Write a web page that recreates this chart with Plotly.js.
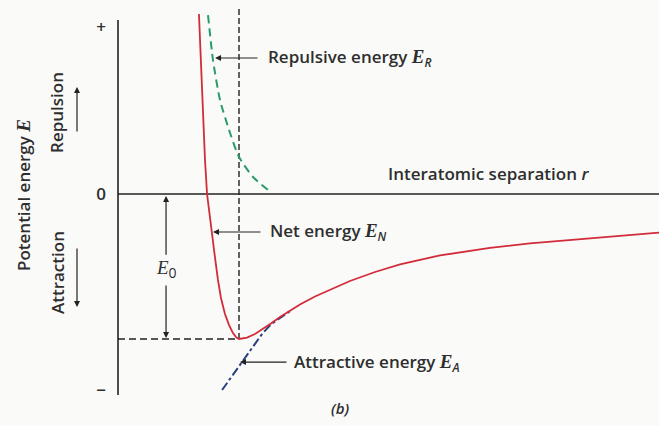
<!DOCTYPE html>
<html><head><meta charset="utf-8">
<script src="https://cdn.plot.ly/plotly-3.0.1.min.js"></script>
<style>html,body{margin:0;padding:0;background:#fafaf8}</style>
</head><body><div id="chart" style="width:659px;height:426px"></div>
<script>
// Schematic units: r0 (equilibrium separation) = 1, E0 (bonding energy) = 1
const netR = [0.669, 0.686, 0.702, 0.719, 0.736, 0.756, 0.781, 0.802, 0.826, 0.851, 0.884, 0.917, 0.950, 0.979, 1.0, 1.066, 1.132, 1.198, 1.264, 1.339, 1.421, 1.504, 1.628, 1.752, 1.917, 2.124, 2.331, 2.661, 3.074, 3.405, 3.818, 4.149, 4.471];
const netE = [1.241, 0.855, 0.510, 0.234, 0.0, -0.145, -0.283, -0.441, -0.593, -0.717, -0.828, -0.903, -0.959, -0.990, -1.0, -0.990, -0.966, -0.931, -0.893, -0.848, -0.803, -0.762, -0.707, -0.659, -0.600, -0.538, -0.486, -0.424, -0.372, -0.341, -0.310, -0.286, -0.266];
const repR = [0.744, 0.785, 0.843, 0.926, 1.0, 1.116, 1.240];
const repE = [1.234, 0.924, 0.648, 0.421, 0.255, 0.117, 0.028];
const attR = [0.860, 1.025, 1.190, 1.264, 1.339, 1.421];
const attE = [-1.352, -1.159, -0.966, -0.899, -0.854, -0.808];
const r0Line = [1, 1];
const r0LineE = [1.276, -1.0];
const e0LineR = [0, 1];
const e0LineE = [-1, -1];
const axisR = [0, 0];
const axisE = [1.2, -1.386];
const baseR = [0, 4.471];
const baseE = [0, 0];
const tickVals = [1.15, 0, -1.35];
const tickText = ['+', '0', '\u2212'];

const serifE = (sub) => '<span style="font-family:Liberation Serif;font-size:19px"><i>E</i></span><sub>' + sub + '</sub>';
const txtFont = {family: 'Open Sans', size: 17, weight: 600, color: '#2e2e2e'};

const traces = [
  {x: axisR, y: axisE, mode: 'lines', line: {color: '#222', width: 1.6}, hoverinfo: 'skip'},
  {x: baseR, y: baseE, mode: 'lines', line: {color: '#222', width: 1.6}, hoverinfo: 'skip'},
  {x: r0Line, y: r0LineE, mode: 'lines', line: {color: '#222', width: 1.4, dash: '6px,3px'}, hoverinfo: 'skip'},
  {x: e0LineR, y: e0LineE, mode: 'lines', line: {color: '#222', width: 1.4, dash: '7px,4px'}, hoverinfo: 'skip'},
  {x: repR, y: repE, mode: 'lines', line: {color: '#2a9a66', width: 2, dash: '8px,5px', shape: 'spline', smoothing: 0.6}, name: 'Repulsive'},
  {x: attR, y: attE, mode: 'lines', line: {color: '#2b3f7f', width: 2, dash: 'dashdot'}, name: 'Attractive'},
  {x: netR, y: netE, mode: 'lines', line: {color: '#d22b3a', width: 1.8}, name: 'Net'}
];

const arrow = (x, y, ax, ay) => ({
  x: x, y: y, ax: ax, ay: ay, xref: 'x', yref: 'y', axref: 'x', ayref: 'y',
  text: '', showarrow: true, arrowhead: 2, arrowsize: 1, arrowwidth: 1.2, arrowcolor: '#222'
});

const annotations = [
  arrow(0.802, 0.938, 1.165, 0.938),
  {x: 1.226, y: 0.938, xref: 'x', yref: 'y', text: 'Repulsive energy ' + serifE('<i>R</i>'), showarrow: false, xanchor: 'left', yanchor: 'middle', font: txtFont},
  arrow(0.785, -0.262, 1.190, -0.262),
  {x: 1.240, y: -0.262, xref: 'x', yref: 'y', text: 'Net energy ' + serifE('<i>N</i>'), showarrow: false, xanchor: 'left', yanchor: 'middle', font: txtFont},
  arrow(1.008, -1.159, 1.405, -1.159),
  {x: 1.438, y: -1.159, xref: 'x', yref: 'y', text: 'Attractive energy ' + serifE('<i>A</i>'), showarrow: false, xanchor: 'left', yanchor: 'middle', font: txtFont},
  {x: 2.215, y: 0.138, xref: 'x', yref: 'y', text: 'Interatomic separation <i>r</i>', showarrow: false, xanchor: 'left', yanchor: 'middle', font: txtFont},
  arrow(0.397, -0.014, 0.397, -0.43),
  arrow(0.397, -0.993, 0.397, -0.62),
  {x: 0.397, y: -0.524, xref: 'x', yref: 'y', text: serifE('0'), showarrow: false, xanchor: 'center', yanchor: 'middle', font: {family: 'Open Sans', size: 20, color: '#2e2e2e'}},
  {x: 1.835, y: -0.02, xref: 'x', yref: 'paper', text: '<i>(b)</i>', showarrow: false, xanchor: 'center', yanchor: 'middle', font: {family: 'Open Sans', size: 15, weight: 600, color: '#2e2e2e'}},
  {x: (23 - 110) / 549, y: -0.007, xref: 'paper', yref: 'y', text: 'Potential energy ' + '<span style="font-family:Liberation Serif;font-size:19px"><i>E</i></span>', textangle: -90, showarrow: false, xanchor: 'center', yanchor: 'middle', font: txtFont},
  {x: (57 - 110) / 549, y: 0.559, xref: 'paper', yref: 'y', text: 'Repulsion', textangle: -90, showarrow: false, xanchor: 'center', yanchor: 'middle', font: txtFont},
  {x: (57 - 110) / 549, y: -0.545, xref: 'paper', yref: 'y', text: 'Attraction', textangle: -90, showarrow: false, xanchor: 'center', yanchor: 'middle', font: txtFont},
  {x: (77 - 110) / 549, y: 0.738, xref: 'paper', yref: 'y', axref: 'pixel', ayref: 'pixel', ax: 0, ay: 46, text: '', showarrow: true, arrowhead: 2, arrowsize: 1, arrowwidth: 1.2, arrowcolor: '#222'},
  {x: (77 - 110) / 549, y: -0.779, xref: 'paper', yref: 'y', axref: 'pixel', ayref: 'pixel', ax: 0, ay: -60, text: '', showarrow: true, arrowhead: 2, arrowsize: 1, arrowwidth: 1.2, arrowcolor: '#222'}
];

const layout = {
  width: 659, height: 426,
  margin: {l: 110, r: 0, t: 8, b: 26},
  paper_bgcolor: '#fafaf8', plot_bgcolor: '#fafaf8',
  showlegend: false,
  xaxis: {range: [-8 / 121, 4.4711], showgrid: false, zeroline: false, showticklabels: false, ticks: '', showline: false, fixedrange: true},
  yaxis: {range: [-206 / 145, 186 / 145], showgrid: false, zeroline: false, showline: false, ticks: '', ticklabelstandoff: 3,
          tickmode: 'array', tickvals: tickVals, ticktext: tickText, tickfont: {family: 'Open Sans', size: 17, weight: 600, color: '#2e2e2e'}},
  annotations: annotations
};

Plotly.newPlot('chart', traces, layout, {staticPlot: true, displayModeBar: false});
</script></body></html>
